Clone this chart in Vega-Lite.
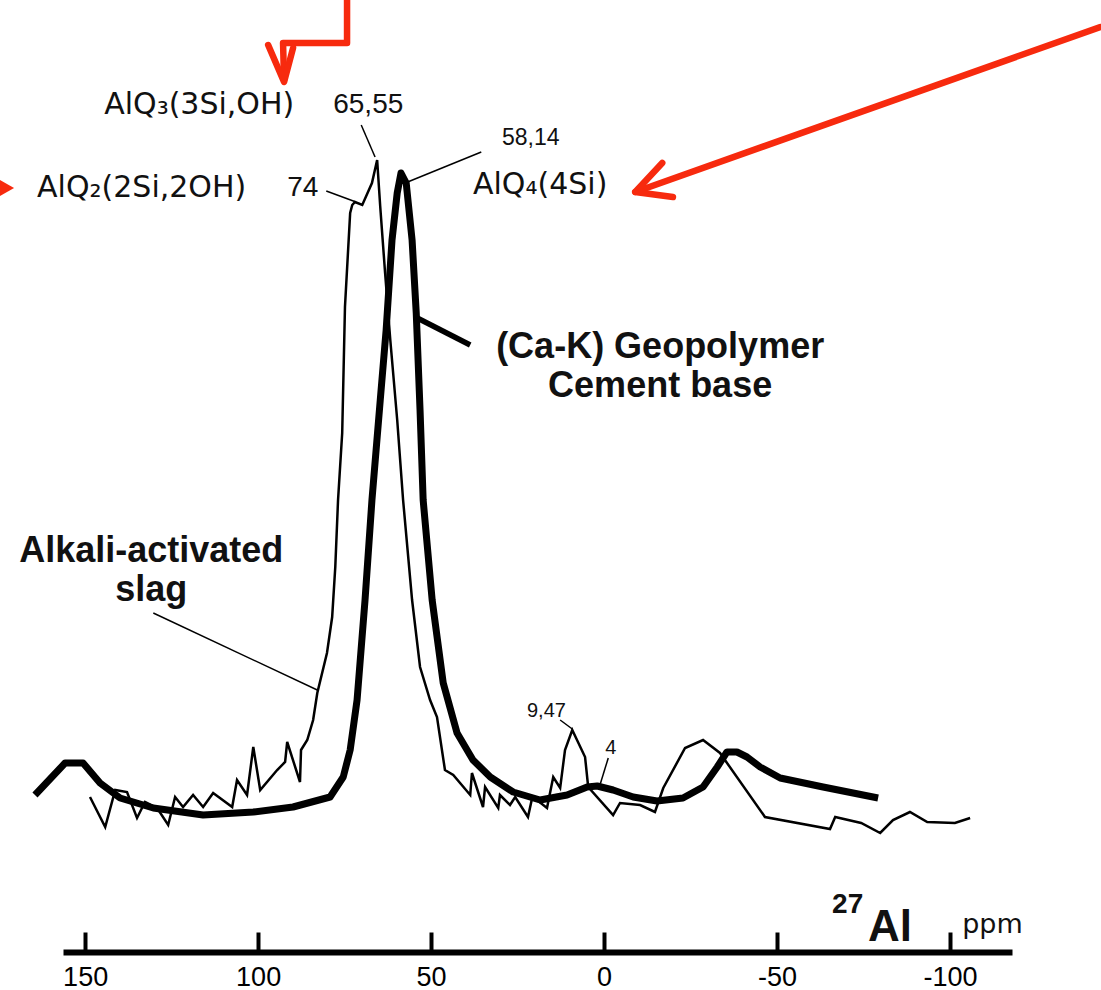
{
  "$schema": "https://vega.github.io/schema/vega-lite/v6.json",
  "width": 949,
  "height": 952,
  "autosize": {"type": "none"},
  "padding": {"left": 63, "top": 0, "right": 89, "bottom": 38},
  "background": "white",
  "config": {
    "view": {"stroke": null},
    "axisX": {
      "domainColor": "black", "domainWidth": 6, "domainCap": "butt",
      "tickColor": "black", "tickWidth": 4, "tickSize": -20,
      "labelFont": "Liberation Sans", "labelFontSize": 27, "labelColor": "black",
      "labelPadding": 32, "grid": false, "labelFlush": false
    }
  },
  "datasets": {
    "slag": [
      {"ppm": 148.6, "intensity": 155}, {"ppm": 144.2, "intensity": 125}, {"ppm": 141.3, "intensity": 162},
      {"ppm": 137.9, "intensity": 160}, {"ppm": 135.0, "intensity": 134}, {"ppm": 132.7, "intensity": 150},
      {"ppm": 129.2, "intensity": 144}, {"ppm": 126.0, "intensity": 127}, {"ppm": 124.0, "intensity": 155},
      {"ppm": 121.7, "intensity": 145}, {"ppm": 118.8, "intensity": 157}, {"ppm": 115.9, "intensity": 145},
      {"ppm": 113.0, "intensity": 159}, {"ppm": 107.5, "intensity": 145}, {"ppm": 106.1, "intensity": 172},
      {"ppm": 103.2, "intensity": 157}, {"ppm": 101.4, "intensity": 205}, {"ppm": 99.4, "intensity": 162},
      {"ppm": 94.5, "intensity": 182}, {"ppm": 92.2, "intensity": 190}, {"ppm": 91.6, "intensity": 210},
      {"ppm": 87.9, "intensity": 170}, {"ppm": 87.6, "intensity": 202}, {"ppm": 85.8, "intensity": 212},
      {"ppm": 84.1, "intensity": 232}, {"ppm": 82.9, "intensity": 259}, {"ppm": 80.1, "intensity": 299},
      {"ppm": 78.6, "intensity": 335}, {"ppm": 77.7, "intensity": 385}, {"ppm": 76.9, "intensity": 452},
      {"ppm": 75.7, "intensity": 519}, {"ppm": 74.9, "intensity": 645}, {"ppm": 73.4, "intensity": 739},
      {"ppm": 72.8, "intensity": 747}, {"ppm": 72.0, "intensity": 750}, {"ppm": 69.9, "intensity": 747},
      {"ppm": 67.1, "intensity": 769}, {"ppm": 65.6, "intensity": 792}, {"ppm": 64.7, "intensity": 745},
      {"ppm": 63.3, "intensity": 679}, {"ppm": 61.8, "intensity": 612}, {"ppm": 59.8, "intensity": 532},
      {"ppm": 58.1, "intensity": 452}, {"ppm": 55.5, "intensity": 352}, {"ppm": 53.2, "intensity": 285},
      {"ppm": 50.3, "intensity": 252}, {"ppm": 48.3, "intensity": 235}, {"ppm": 46.0, "intensity": 182},
      {"ppm": 43.6, "intensity": 177}, {"ppm": 38.7, "intensity": 157}, {"ppm": 38.2, "intensity": 179},
      {"ppm": 35.0, "intensity": 145}, {"ppm": 34.4, "intensity": 165}, {"ppm": 30.6, "intensity": 144},
      {"ppm": 30.1, "intensity": 157}, {"ppm": 27.2, "intensity": 147}, {"ppm": 25.7, "intensity": 155},
      {"ppm": 22.0, "intensity": 135}, {"ppm": 20.8, "intensity": 154}, {"ppm": 19.4, "intensity": 152},
      {"ppm": 16.5, "intensity": 144}, {"ppm": 14.7, "intensity": 175}, {"ppm": 12.7, "intensity": 164},
      {"ppm": 11.3, "intensity": 202}, {"ppm": 9.2, "intensity": 222}, {"ppm": 5.5, "intensity": 195},
      {"ppm": 4.6, "intensity": 165}, {"ppm": -2.6, "intensity": 137}, {"ppm": -4.6, "intensity": 149},
      {"ppm": -10.4, "intensity": 147}, {"ppm": -14.7, "intensity": 140}, {"ppm": -17.1, "intensity": 164},
      {"ppm": -23.4, "intensity": 204}, {"ppm": -28.6, "intensity": 212}, {"ppm": -33.5, "intensity": 199},
      {"ppm": -46.5, "intensity": 135}, {"ppm": -65.3, "intensity": 123}, {"ppm": -66.8, "intensity": 135},
      {"ppm": -74.3, "intensity": 129}, {"ppm": -79.8, "intensity": 119}, {"ppm": -83.5, "intensity": 132},
      {"ppm": -88.4, "intensity": 140}, {"ppm": -93.4, "intensity": 130}, {"ppm": -101.4, "intensity": 129},
      {"ppm": -105.8, "intensity": 134}
    ],
    "geopolymer": [
      {"ppm": 164.5, "intensity": 157}, {"ppm": 155.8, "intensity": 189}, {"ppm": 150.6, "intensity": 189},
      {"ppm": 145.7, "intensity": 169}, {"ppm": 139.9, "intensity": 154}, {"ppm": 130.3, "intensity": 144},
      {"ppm": 115.9, "intensity": 137}, {"ppm": 101.4, "intensity": 140}, {"ppm": 89.9, "intensity": 145},
      {"ppm": 79.2, "intensity": 155}, {"ppm": 75.4, "intensity": 175}, {"ppm": 73.4, "intensity": 202},
      {"ppm": 71.4, "intensity": 252}, {"ppm": 69.1, "intensity": 352}, {"ppm": 67.1, "intensity": 452},
      {"ppm": 64.7, "intensity": 552}, {"ppm": 63.0, "intensity": 622}, {"ppm": 61.3, "intensity": 712},
      {"ppm": 59.8, "intensity": 759}, {"ppm": 58.7, "intensity": 779}, {"ppm": 57.2, "intensity": 769},
      {"ppm": 55.5, "intensity": 712}, {"ppm": 54.3, "intensity": 639}, {"ppm": 53.2, "intensity": 542},
      {"ppm": 52.3, "intensity": 452}, {"ppm": 49.7, "intensity": 352}, {"ppm": 46.5, "intensity": 269},
      {"ppm": 42.5, "intensity": 219}, {"ppm": 37.9, "intensity": 192}, {"ppm": 32.9, "intensity": 175},
      {"ppm": 26.3, "intensity": 160}, {"ppm": 18.5, "intensity": 152}, {"ppm": 10.7, "intensity": 157},
      {"ppm": 4.9, "intensity": 165}, {"ppm": 2.0, "intensity": 166}, {"ppm": -2.6, "intensity": 162},
      {"ppm": -8.4, "intensity": 155}, {"ppm": -15.3, "intensity": 151}, {"ppm": -22.8, "intensity": 154},
      {"ppm": -28.6, "intensity": 165}, {"ppm": -32.7, "intensity": 185}, {"ppm": -35.5, "intensity": 200},
      {"ppm": -38.4, "intensity": 200}, {"ppm": -41.3, "intensity": 195}, {"ppm": -45.1, "intensity": 185},
      {"ppm": -50.9, "intensity": 174}, {"ppm": -63.3, "intensity": 165}, {"ppm": -79.2, "intensity": 154}
    ],
    "leaders": [
      {"ppm": 70.2, "intensity": 827, "ppm2": 66.2, "intensity2": 795},
      {"ppm": 80.3, "intensity": 761, "ppm2": 71.7, "intensity2": 750},
      {"ppm": 35.5, "intensity": 800, "ppm2": 57.5, "intensity2": 769},
      {"ppm": 130.3, "intensity": 339, "ppm2": 82.9, "intensity2": 262},
      {"ppm": 12.7, "intensity": 232, "ppm2": 9.2, "intensity2": 223},
      {"ppm": -1.2, "intensity": 194, "ppm2": 1.2, "intensity2": 167}
    ],
    "leaderThick": [
      {"ppm": 38.7, "intensity": 607, "ppm2": 54.0, "intensity2": 634}
    ],
    "arrows": [
      {"path": "a", "ppm": 74.3, "intensity": 952}, {"path": "a", "ppm": 74.3, "intensity": 909},
      {"path": "a", "ppm": 92.8, "intensity": 909}, {"path": "a", "ppm": 92.5, "intensity": 872},
      {"path": "b", "ppm": 97.1, "intensity": 907}, {"path": "b", "ppm": 92.5, "intensity": 870},
      {"path": "b", "ppm": 89.9, "intensity": 904},
      {"path": "c", "ppm": -143.4, "intensity": 925}, {"path": "c", "ppm": -9.0, "intensity": 760},
      {"path": "d", "ppm": -16.8, "intensity": 789}, {"path": "d", "ppm": -9.0, "intensity": 760},
      {"path": "d", "ppm": -19.9, "intensity": 755}
    ],
    "marker": [{"ppm": 173.4, "intensity": 764}],
    "labels": [
      {"group": "formula", "ppm": 144.5, "intensity": 847, "text": "AlQ₃(3Si,OH)"},
      {"group": "formula", "ppm": 163.9, "intensity": 764, "text": "AlQ₂(2Si,2OH)"},
      {"group": "formula", "ppm": 37.9, "intensity": 767, "text": "AlQ₄(4Si)"},
      {"group": "num28", "ppm": 78.3, "intensity": 847, "text": "65,55"},
      {"group": "num28", "ppm": 91.6, "intensity": 764, "text": "74"},
      {"group": "num23", "ppm": 29.5, "intensity": 814, "text": "58,14"},
      {"group": "num20", "ppm": 22.3, "intensity": 241, "text": "9,47"},
      {"group": "num20", "ppm": -0.3, "intensity": 204, "text": "4"},
      {"group": "bold", "ppm": -16.2, "intensity": 605, "text": "(Ca-K) Geopolymer"},
      {"group": "bold", "ppm": -16.2, "intensity": 566, "text": "Cement base"},
      {"group": "bold", "ppm": 130.9, "intensity": 401, "text": "Alkali-activated"},
      {"group": "bold", "ppm": 130.9, "intensity": 362, "text": "slag"},
      {"group": "sup", "ppm": -65.9, "intensity": 47, "text": "27"},
      {"group": "al", "ppm": -76.3, "intensity": 24, "text": "Al"},
      {"group": "unit", "ppm": -103.5, "intensity": 27, "text": "ppm"}
    ]
  },
  "layer": [
    {
      "data": {"name": "slag"},
      "mark": {"type": "line", "color": "black", "strokeWidth": 2.5, "strokeJoin": "miter"},
      "encoding": {
        "x": {"field": "ppm", "type": "quantitative", "title": null,
              "scale": {"domain": [-117.9, 156.4], "reverse": true, "nice": false, "zero": false},
              "axis": {"values": [150, 100, 50, 0, -50, -100], "labelExpr": "'' + datum.value", "title": null}},
        "y": {"field": "intensity", "type": "quantitative", "title": null,
              "scale": {"domain": [0, 952], "nice": false, "zero": false}, "axis": null},
        "order": {"value": null}
      }
    },
    {
      "data": {"name": "geopolymer"},
      "mark": {"type": "line", "color": "black", "strokeWidth": 7, "strokeJoin": "round", "strokeCap": "butt"},
      "encoding": {
        "x": {"field": "ppm", "type": "quantitative", "title": null},
        "y": {"field": "intensity", "type": "quantitative", "title": null, "axis": null},
        "order": {"value": null}
      }
    },
    {
      "data": {"name": "leaders"},
      "mark": {"type": "rule", "color": "black", "strokeWidth": 1.5},
      "encoding": {
        "x": {"field": "ppm", "type": "quantitative", "title": null},
        "x2": {"field": "ppm2"},
        "y": {"field": "intensity", "type": "quantitative", "title": null, "axis": null},
        "y2": {"field": "intensity2"}
      }
    },
    {
      "data": {"name": "leaderThick"},
      "mark": {"type": "rule", "color": "black", "strokeWidth": 5.5, "strokeCap": "butt"},
      "encoding": {
        "x": {"field": "ppm", "type": "quantitative", "title": null},
        "x2": {"field": "ppm2"},
        "y": {"field": "intensity", "type": "quantitative", "title": null, "axis": null},
        "y2": {"field": "intensity2"}
      }
    },
    {
      "data": {"name": "arrows"},
      "mark": {"type": "line", "color": "#f72a0e", "strokeWidth": 6.5, "strokeCap": "round", "strokeJoin": "round"},
      "encoding": {
        "x": {"field": "ppm", "type": "quantitative", "title": null},
        "y": {"field": "intensity", "type": "quantitative", "title": null, "axis": null},
        "detail": {"field": "path"},
        "order": {"value": null}
      }
    },
    {
      "data": {"name": "marker"},
      "mark": {"type": "point", "shape": "triangle-right", "filled": true, "color": "#f72a0e", "size": 520, "opacity": 1},
      "encoding": {
        "x": {"field": "ppm", "type": "quantitative", "title": null},
        "y": {"field": "intensity", "type": "quantitative", "title": null, "axis": null}
      }
    },
    {
      "data": {"name": "labels"},
      "transform": [{"filter": "datum.group == 'formula'"}],
      "mark": {"type": "text", "font": "DejaVu Sans", "fontSize": 30, "align": "left", "baseline": "middle", "color": "#111"},
      "encoding": {
        "x": {"field": "ppm", "type": "quantitative", "title": null},
        "y": {"field": "intensity", "type": "quantitative", "title": null, "axis": null},
        "text": {"field": "text"}
      }
    },
    {
      "data": {"name": "labels"},
      "transform": [{"filter": "datum.group == 'num28'"}],
      "mark": {"type": "text", "font": "Liberation Sans", "fontSize": 28, "align": "left", "baseline": "middle", "color": "#111"},
      "encoding": {
        "x": {"field": "ppm", "type": "quantitative", "title": null},
        "y": {"field": "intensity", "type": "quantitative", "title": null, "axis": null},
        "text": {"field": "text"}
      }
    },
    {
      "data": {"name": "labels"},
      "transform": [{"filter": "datum.group == 'num23'"}],
      "mark": {"type": "text", "font": "Liberation Sans", "fontSize": 23, "align": "left", "baseline": "middle", "color": "#111"},
      "encoding": {
        "x": {"field": "ppm", "type": "quantitative", "title": null},
        "y": {"field": "intensity", "type": "quantitative", "title": null, "axis": null},
        "text": {"field": "text"}
      }
    },
    {
      "data": {"name": "labels"},
      "transform": [{"filter": "datum.group == 'num20'"}],
      "mark": {"type": "text", "font": "Liberation Sans", "fontSize": 20, "align": "left", "baseline": "middle", "color": "#111"},
      "encoding": {
        "x": {"field": "ppm", "type": "quantitative", "title": null},
        "y": {"field": "intensity", "type": "quantitative", "title": null, "axis": null},
        "text": {"field": "text"}
      }
    },
    {
      "data": {"name": "labels"},
      "transform": [{"filter": "datum.group == 'bold'"}],
      "mark": {"type": "text", "font": "Liberation Sans", "fontSize": 36, "fontWeight": "bold", "align": "center", "baseline": "middle", "color": "#111"},
      "encoding": {
        "x": {"field": "ppm", "type": "quantitative", "title": null},
        "y": {"field": "intensity", "type": "quantitative", "title": null, "axis": null},
        "text": {"field": "text"}
      }
    },
    {
      "data": {"name": "labels"},
      "transform": [{"filter": "datum.group == 'sup'"}],
      "mark": {"type": "text", "font": "Liberation Sans", "fontSize": 28, "fontWeight": "bold", "align": "left", "baseline": "middle", "color": "#111"},
      "encoding": {
        "x": {"field": "ppm", "type": "quantitative", "title": null},
        "y": {"field": "intensity", "type": "quantitative", "title": null, "axis": null},
        "text": {"field": "text"}
      }
    },
    {
      "data": {"name": "labels"},
      "transform": [{"filter": "datum.group == 'al'"}],
      "mark": {"type": "text", "font": "Liberation Sans", "fontSize": 44, "fontWeight": "bold", "align": "left", "baseline": "middle", "color": "#111"},
      "encoding": {
        "x": {"field": "ppm", "type": "quantitative", "title": null},
        "y": {"field": "intensity", "type": "quantitative", "title": null, "axis": null},
        "text": {"field": "text"}
      }
    },
    {
      "data": {"name": "labels"},
      "transform": [{"filter": "datum.group == 'unit'"}],
      "mark": {"type": "text", "font": "DejaVu Sans", "fontSize": 27, "align": "left", "baseline": "middle", "color": "#111"},
      "encoding": {
        "x": {"field": "ppm", "type": "quantitative", "title": null},
        "y": {"field": "intensity", "type": "quantitative", "title": null, "axis": null},
        "text": {"field": "text"}
      }
    }
  ]
}
